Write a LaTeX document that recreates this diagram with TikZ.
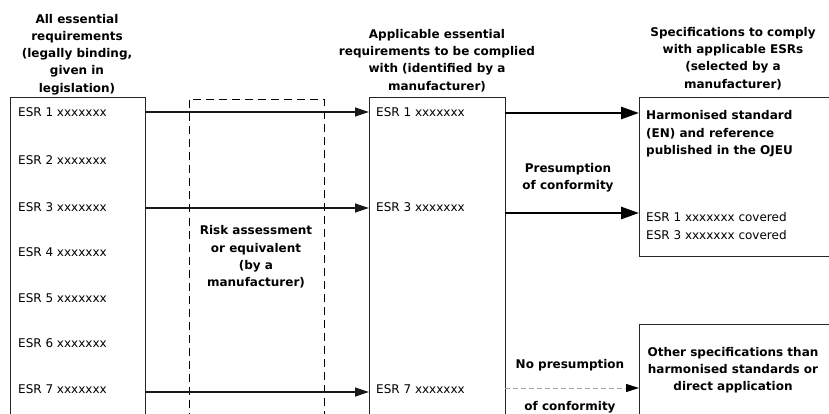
\documentclass[tikz,border=0pt]{standalone}
\usepackage{fontspec}
\setmainfont{DejaVu Sans}
\usetikzlibrary{arrows.meta}
\begin{document}
\begin{tikzpicture}[x=1pt,y=-1pt,
  box/.style={draw=black!85, line width=1pt, rectangle, inner sep=0, outer sep=0},
  riskframe/.style={draw=black, line width=1pt, dash pattern=on 8pt off 5pt, rectangle, inner sep=0, outer sep=0},
  esr/.style={anchor=west, inner sep=0, font=\fontsize{12}{17.3}\selectfont},
  ttl/.style={align=center, inner sep=0, font=\fontsize{12}{17.3}\selectfont\bfseries},
  esrarrow/.style={draw=black!90, line width=1.2pt, -{Triangle[length=14pt,width=9pt]}},
  heavyarrow/.style={draw=black, line width=2.6pt, -{Triangle[length=18pt,width=12pt]}},
  greyarrow/.style={draw=gray!70, line width=1pt, dash pattern=on 5pt off 3pt, -{Triangle[length=13pt,width=8pt,color=black]}}
]
\useasboundingbox (0,0) rectangle (829,414);
\clip (0,0) rectangle (829,414);

% boxes
\node[box, minimum width=135pt, minimum height=340pt] (allbox) at (77.5,268) {};
\node[riskframe, minimum width=135pt, minimum height=340pt] (riskbox) at (256.5,269.5) {};
\node[box, minimum width=136pt, minimum height=340pt] (midbox) at (437,268) {};
\node[box, minimum width=210pt, minimum height=158pt] (hsbox) at (744,177) {};
\node[box, minimum width=210pt, minimum height=120pt] (othbox) at (744,384) {};

% titles
\node[ttl, anchor=south] (t1) at (77,95) {All essential\\requirements\\(legally binding,\\given in\\legislation)};
\node[ttl, anchor=south] (t2) at (437,92) {Applicable essential\\requirements to be complied\\with (identified by a\\manufacturer)};
\node[ttl, anchor=south] (t3) at (733,90) {Specifications to comply\\with applicable ESRs\\(selected by a\\manufacturer)};

% left ESR list
\node[esr] (a1) at (18,112) {ESR 1 xxxxxxx};
\node[esr] (a2) at (18,160) {ESR 2 xxxxxxx};
\node[esr] (a3) at (18,207) {ESR 3 xxxxxxx};
\node[esr] (a4) at (18,252) {ESR 4 xxxxxxx};
\node[esr] (a5) at (18,298) {ESR 5 xxxxxxx};
\node[esr] (a6) at (18,343) {ESR 6 xxxxxxx};
\node[esr] (a7) at (18,389) {ESR 7 xxxxxxx};

% middle ESR list
\node[esr] (m1) at (376,112) {ESR 1 xxxxxxx};
\node[esr] (m3) at (376,207) {ESR 3 xxxxxxx};
\node[esr] (m7) at (376,389) {ESR 7 xxxxxxx};

% risk text
\node[ttl] (risk) at (256,257) {Risk assessment\\or equivalent\\(by a\\manufacturer)};

% right texts
\node[ttl, align=left, anchor=north west] (hs) at (646,110.5) {Harmonised standard\\(EN) and reference\\published in the OJEU};
\node[esr, align=left, anchor=north west] (cov) at (646,212.5) {ESR 1 xxxxxxx covered\\ESR 3 xxxxxxx covered};
\node[ttl] (pres) at (568,178) {Presumption\\of conformity};
\node[ttl] (nop1) at (570,365) {No presumption};
\node[ttl] (nop2) at (570,407) {of conformity};
\node[ttl] (oth) at (733,370) {Other specifications than\\harmonised standards or\\direct application};

% arrows left -> middle
\coordinate (y1) at (0,112);
\coordinate (y3) at (0,208);
\coordinate (y7) at (0,392);
\draw[esrarrow] (allbox.east |- y1) -- (midbox.west |- y1);
\draw[esrarrow] (allbox.east |- y3) -- (midbox.west |- y3);
\draw[esrarrow] (allbox.east |- y7) -- (midbox.west |- y7);

% arrows middle -> right
\coordinate (r1) at (0,113);
\coordinate (r3) at (0,213);
\coordinate (r7) at (0,388);
\draw[heavyarrow] (midbox.east |- r1) -- (hsbox.west |- r1);
\draw[heavyarrow] (midbox.east |- r3) -- (hsbox.west |- r3);
\draw[greyarrow] (midbox.east |- r7) -- (othbox.west |- r7);
\end{tikzpicture}
\end{document}
